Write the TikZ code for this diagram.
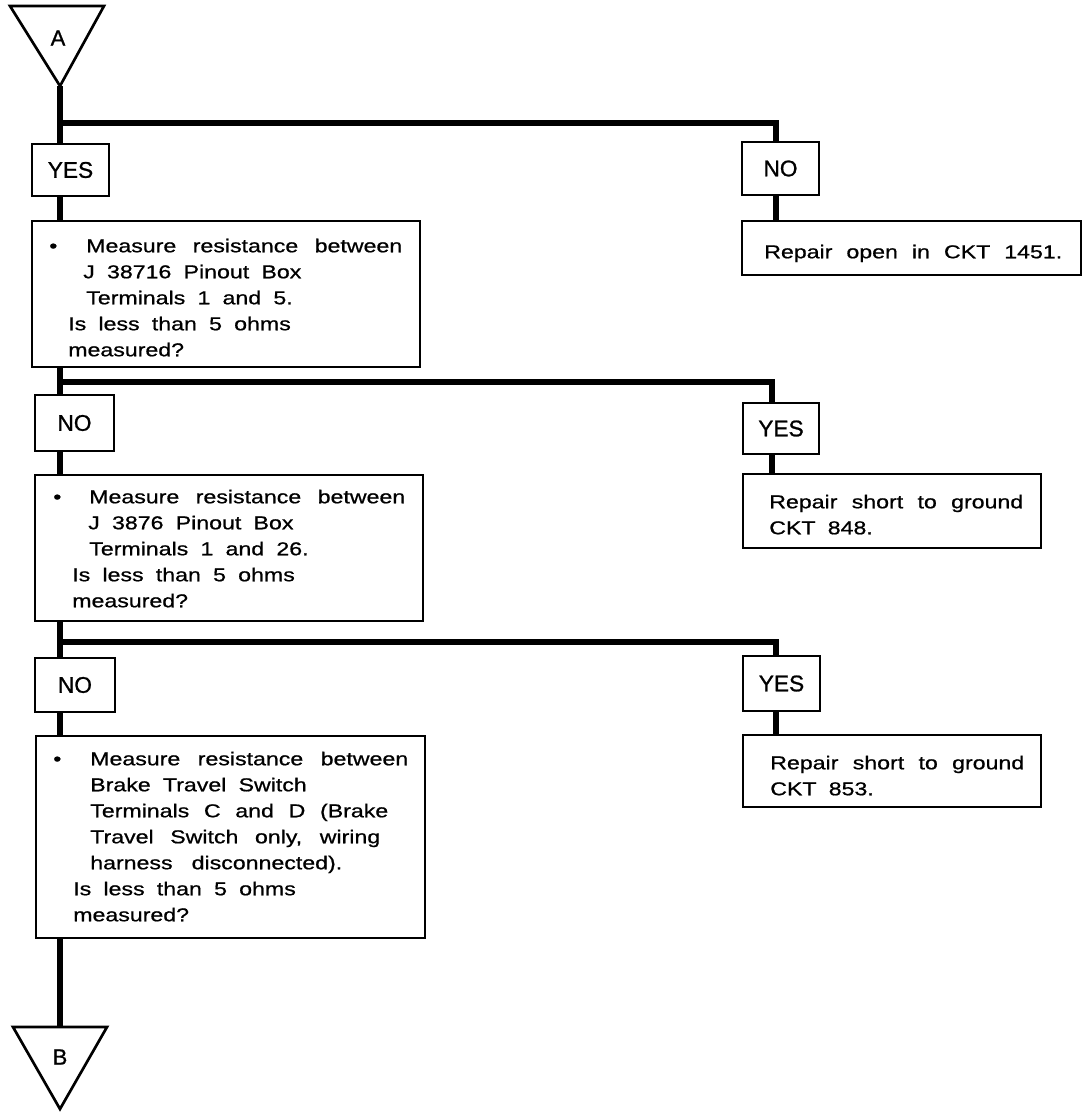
\documentclass[tikz,border=0pt]{standalone}
\usepackage{fontspec}
\setmainfont{Liberation Sans}[FakeStretch=1.24, FakeBold=0.8, WordSpace=1.9]
\newfontfamily\labfont{Liberation Sans}[FakeBold=1.0]
\newlength\pxu
\setlength\pxu{0.75pt}
\tikzset{
  conn/.style={line width=4.2pt, line join=miter},
  lbox/.style={draw, line width=2pt, fill=white, inner sep=0pt,
    font=\labfont\fontsize{17pt}{19.5pt}\selectfont},
  tbox/.style={draw, line width=2pt, fill=white, inner sep=0pt},
  body/.style={anchor=north west, inner sep=0pt, align=left,
    font=\fontsize{14pt}{19.5pt}\selectfont},
  tri/.style={draw, line width=2pt, line join=miter},
  trilabel/.style={inner sep=0pt, font=\labfont\fontsize{16.5pt}{19.5pt}\selectfont},
}
\begin{document}
\begin{tikzpicture}[x=0.75pt, y=-0.75pt]
\useasboundingbox (0,0) rectangle (1088,1118);

% connector A
\coordinate (Atl) at (10,6);
\coordinate (Atr) at (104,6);
\coordinate (Aapex) at (60,86);
\draw[tri] (Atl) -- (Atr) -- (Aapex) -- cycle;
\node[trilabel] (Alab) at (58,38) {A};

% B triangle
\coordinate (Btl) at (13,1027);
\coordinate (Btr) at (107,1027);
\coordinate (Bapex) at (60,1109);
\coordinate (Btop) at (60,1027);
\draw[tri] (Btl) -- (Btr) -- (Bapex) -- cycle;
\node[trilabel] (Blab) at (60,1057) {B};

% boxes
\node[lbox, minimum width=77\pxu, minimum height=52\pxu] (yes1) at (70.5,170) {YES};
\node[lbox, minimum width=77\pxu, minimum height=53\pxu] (no1) at (780.5,168.5) {NO};
\node[tbox, minimum width=339\pxu, minimum height=54\pxu] (rep1) at (911.5,248) {};
\node[tbox, minimum width=388\pxu, minimum height=146\pxu] (box1) at (226,294) {};

\node[lbox, minimum width=79\pxu, minimum height=56\pxu] (no2) at (74.5,423) {NO};
\node[lbox, minimum width=76\pxu, minimum height=51\pxu] (yes2) at (781,428.5) {YES};
\node[tbox, minimum width=298\pxu, minimum height=74\pxu] (rep2) at (892,511) {};
\node[tbox, minimum width=388\pxu, minimum height=146\pxu] (box2) at (229,548) {};

\node[lbox, minimum width=80\pxu, minimum height=54\pxu] (no3) at (75,685) {NO};
\node[lbox, minimum width=77\pxu, minimum height=55\pxu] (yes3) at (781.5,683.5) {YES};
\node[tbox, minimum width=298\pxu, minimum height=72\pxu] (rep3) at (892,771) {};
\node[tbox, minimum width=389\pxu, minimum height=202\pxu] (box3) at (230.5,837) {};

% trunk and branch coordinates
\coordinate (j1) at (60,123);
\coordinate (r1) at (776,123);
\coordinate (j2) at (60,382);
\coordinate (r2) at (772,382);
\coordinate (j3) at (60,642);
\coordinate (r3) at (776,642);

% connectors
\draw[conn] (Aapex) -- (Aapex |- yes1.north);
\draw[conn] (j1) -- (r1) -- (r1 |- no1.north);
\draw[conn] (j1 |- yes1.south) -- (j1 |- box1.north);
\draw[conn] (r1 |- no1.south) -- (r1 |- rep1.north);

\draw[conn] (j2 |- box1.south) -- (j2 |- no2.north);
\draw[conn] (j2) -- (r2) -- (r2 |- yes2.north);
\draw[conn] (j2 |- no2.south) -- (j2 |- box2.north);
\draw[conn] (r2 |- yes2.south) -- (r2 |- rep2.north);

\draw[conn] (j3 |- box2.south) -- (j3 |- no3.north);
\draw[conn] (j3) -- (r3) -- (r3 |- yes3.north);
\draw[conn] (j3 |- no3.south) -- (j3 |- box3.north);
\draw[conn] (r3 |- yes3.south) -- (r3 |- rep3.north);

\draw[conn] (j3 |- box3.south) -- (Btop);

% texts
\node[body] (t1) at (49,233.8) {\strut\makebox[37\pxu][l]{\textbullet}\makebox[316\pxu][s]{Measure resistance between}\\
\hspace*{34\pxu}J 38716 Pinout Box\\
\hspace*{37\pxu}Terminals 1 and 5.\\
\hspace*{19\pxu}Is less than 5 ohms\\
\hspace*{19\pxu}measured?};

\node[body] (t2) at (53,484.8) {\strut\makebox[36\pxu][l]{\textbullet}\makebox[316\pxu][s]{Measure resistance between}\\
\hspace*{35\pxu}J 3876 Pinout Box\\
\hspace*{36\pxu}Terminals 1 and 26.\\
\hspace*{19\pxu}Is less than 5 ohms\\
\hspace*{19\pxu}measured?};

\node[body] (t3) at (53,746.8) {\strut\makebox[37\pxu][l]{\textbullet}\makebox[318\pxu][s]{Measure resistance between}\\
\hspace*{37\pxu}Brake Travel Switch\\
\hspace*{37\pxu}\makebox[298\pxu][s]{Terminals C and D (Brake}\\
\hspace*{37\pxu}\makebox[290\pxu][s]{Travel Switch only, wiring}\\
\hspace*{37\pxu}\makebox[252\pxu][s]{harness disconnected).}\\
\hspace*{20\pxu}Is less than 5 ohms\\
\hspace*{20\pxu}measured?};

\node[body] (tr1) at (764,239.8) {\strut\makebox[298\pxu][s]{Repair open in CKT 1451.}};
\node[body] (tr2) at (769,489.8) {\strut\makebox[254\pxu][s]{Repair short to ground}\\CKT 848.};
\node[body] (tr3) at (770,750.8) {\strut\makebox[254\pxu][s]{Repair short to ground}\\CKT 853.};
\end{tikzpicture}
\end{document}
